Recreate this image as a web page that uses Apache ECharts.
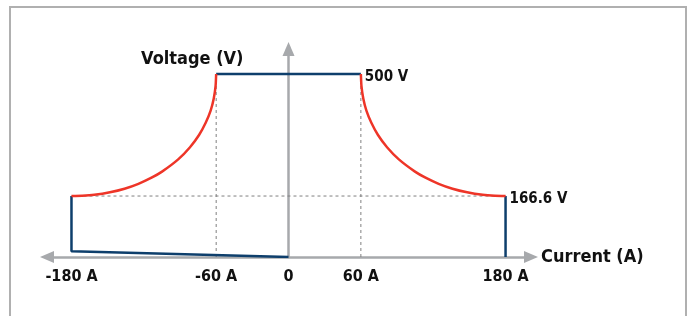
<!DOCTYPE html>
<html><head><meta charset="utf-8">
<script src="https://cdn.jsdelivr.net/npm/echarts@6/dist/echarts.min.js"></script>
<style>html,body{margin:0;padding:0;background:#fff}#c{width:691px;height:316px}</style>
</head><body><div id="c"></div>
<script>
const currentTicks = [-180, -60, 0, 60, 180];
const topLimit = [[-60, 500], [60, 500]];
const rightLimit = [[180, 166.6], [180, 0]];
const leftLimit = [[-180, 166.6], [-180, 16], [0, 0]];
const rightCurveI = [60, 60.5, 62, 64.6, 68.7, 74.2, 81.7, 91.5, 104.9, 113.6, 124.5, 136, 148.1, 161, 171.2, 180];
const rightCurveV = [500, 466.7, 433.3, 400, 366.7, 333.3, 300, 266.7, 233.3, 216.7, 200, 186.6, 176.8, 169.9, 167.3, 166.6];
const leftCurveI = [-180, -171.2, -161, -148.1, -136, -124.5, -113.6, -104.9, -91.5, -81.7, -74.2, -68.7, -64.6, -62, -60.5, -60];
const leftCurveV = [166.6, 167.3, 169.9, 176.8, 186.6, 200, 216.7, 233.3, 266.7, 300, 333.3, 366.7, 400, 433.3, 466.7, 500];
const guideLeft = [[-60, 500], [-60, 0]];
const guideRight = [[60, 500], [60, 0]];
const guideMid = [[-180, 166.6], [180, 166.6]];
const voltLabels = [[60, 500, '500 V'], [180, 166.6, '166.6 V']];

const FONT = "'DejaVu Sans Condensed', Roboto, sans-serif";
const zip = (a, b) => a.map((v, i) => [v, b[i]]);
const chart = echarts.init(document.getElementById('c'), null, {renderer: 'canvas'});
const GREY = '#a7a9ac', BLUE = '#0e3f6c', RED = '#ee3528', DASH = '#808080', INK = '#111';
const guide = d => ({type: 'line', data: d, symbol: 'none', silent: true, z: 1,
  lineStyle: {color: DASH, width: 1, type: [3, 3]}});
const solid = (d, c) => ({type: 'line', data: d, symbol: 'none', silent: true, z: 3,
  lineStyle: {color: c, width: 2.5}});
const curve = d => ({type: 'line', data: d, symbol: 'none', smooth: 0.2, z: 4,
  lineStyle: {color: RED, width: 2.5, join: 'round'}});
chart.setOption({
  animation: false,
  grid: {left: 47, right: 691 - 531, top: 49, bottom: 59},
  graphic: [{type: 'rect', shape: {x: 10, y: 7, width: 676, height: 330},
    style: {fill: 'none', stroke: '#b0b0b0', lineWidth: 2}, z: 0}],
  xAxis: {type: 'value', min: -200.3, max: 201.1, splitLine: {show: false},
    axisLine: {onZero: false, lineStyle: {color: GREY, width: 2.5}, symbol: ['triangle', 'triangle'], symbolSize: [12, 14]},
    axisTick: {show: false},
    axisLabel: {customValues: currentTicks, margin: 12, color: INK, fontFamily: FONT, fontWeight: 'bold', fontSize: 16,
      formatter: v => v === 0 ? '0' : v + ' A'},
    name: 'Current (A)', nameLocation: 'end', nameGap: 10,
    nameTextStyle: {color: INK, fontFamily: FONT, fontWeight: 'bold', fontSize: 18, verticalAlign: 'middle', padding: [5, 0, 0, 0]}},
  yAxis: {type: 'value', min: 0, max: 568.3, splitLine: {show: false},
    axisLine: {onZero: true, lineStyle: {color: GREY, width: 2.5}, symbol: ['none', 'triangle'], symbolSize: [12, 14]},
    axisTick: {show: false}, axisLabel: {show: false},
    name: 'Voltage (V)', nameLocation: 'end', nameGap: -10,
    nameTextStyle: {color: INK, fontFamily: FONT, fontWeight: 'bold', fontSize: 18, align: 'right', verticalAlign: 'middle', padding: [0, 45, 0, 0]}},
  series: [
    guide(guideLeft), guide(guideRight), guide(guideMid),
    solid(topLimit, BLUE), solid(rightLimit, BLUE), solid(leftLimit, BLUE),
    curve(zip(rightCurveI, rightCurveV)), curve(zip(leftCurveI, leftCurveV)),
    {type: 'scatter', data: voltLabels.map(d => ({value: [d[0], d[1]], label: {formatter: d[2]}})),
      symbolSize: 0, z: 5, itemStyle: {opacity: 1},
      label: {show: true, position: 'right', distance: 4, offset: [0, 3], color: INK, opacity: 1, fontFamily: FONT, fontWeight: 'bold', fontSize: 15}}
  ]
});
</script></body></html>
